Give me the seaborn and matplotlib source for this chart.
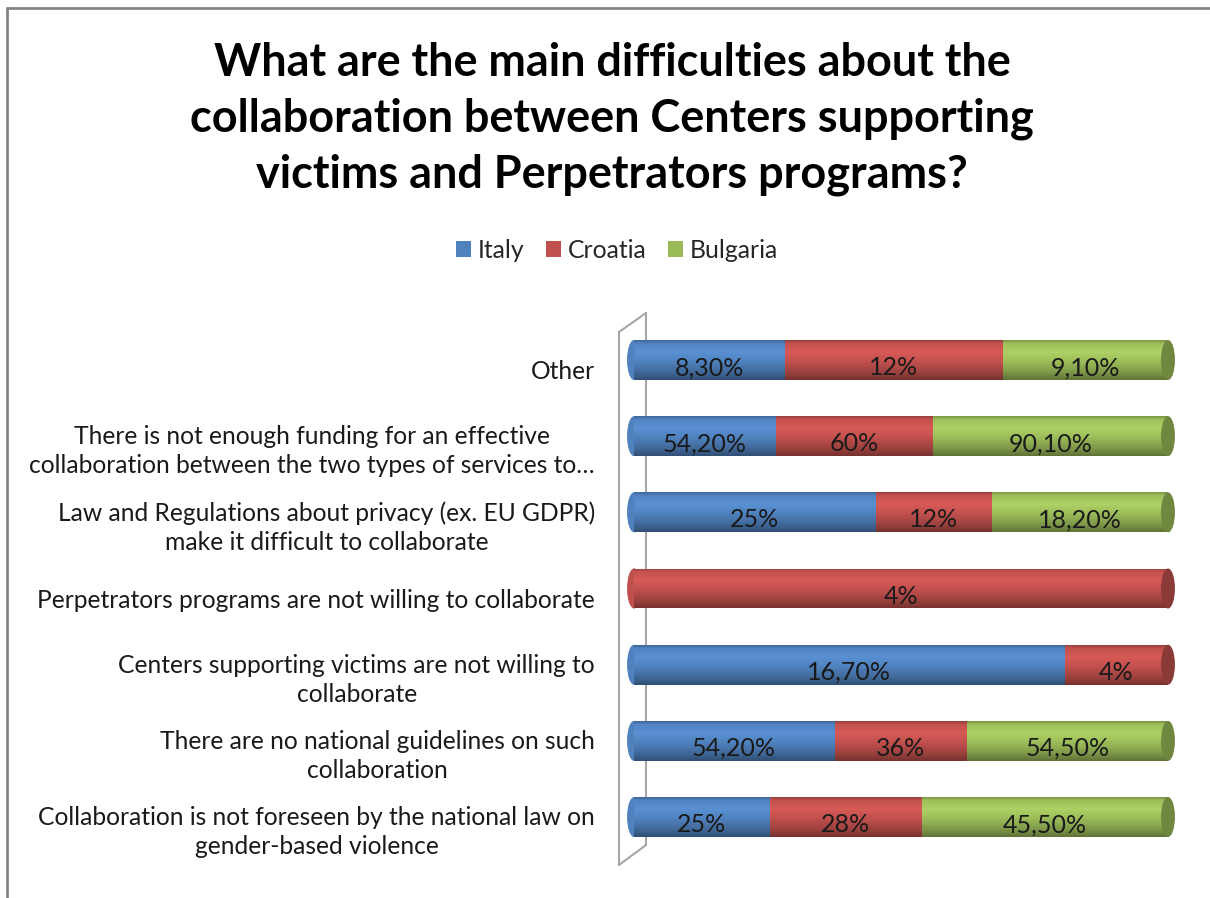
import numpy as np
import pandas as pd
import matplotlib
matplotlib.use("Agg")
import matplotlib.pyplot as plt
import seaborn as sns
from matplotlib.patches import Ellipse
from matplotlib.lines import Line2D
from matplotlib.transforms import ScaledTranslation
from matplotlib.colors import to_rgb

# ---------------- data ----------------
categories = [
    "Other",
    "There is not enough funding for an effective\ncollaboration between the two types of services to…",
    "Law and Regulations about privacy (ex. EU GDPR)\nmake it difficult to collaborate",
    "Perpetrators programs are not willing to collaborate",
    "Centers supporting victims are not willing to\ncollaborate",
    "There are no national guidelines on such\ncollaboration",
    "Collaboration is not foreseen by the national law on\ngender-based violence",
]
italy = [8.3, 54.2, 25, 0, 16.7, 54.2, 25]
croatia = [12, 60, 12, 4, 4, 36, 28]
bulgaria = [9.1, 90.1, 18.2, 0, 0, 54.5, 45.5]
series_names = ["Italy", "Croatia", "Bulgaria"]
series_colors = ["#4F81BD", "#C0504D", "#9BBB59"]
title = ("What are the main difficulties about the\n"
         "collaboration between Centers supporting\n"
         "victims and Perpetrators programs?")

# ---------------- style ----------------
sns.set_theme(style="white")
plt.rcParams["font.family"] = ["Lato", "DejaVu Sans"]

df = pd.DataFrame({"category": categories, "Italy": italy,
                   "Croatia": croatia, "Bulgaria": bulgaria})
vals = df[series_names].astype(float)
share = vals.div(vals.sum(axis=1), axis=0) * 100
cum = share.cumsum(axis=1)
left = cum - share

W, H = 1210, 898
fig = plt.figure(figsize=(W / 100, H / 100), dpi=100)


def fx(px):
    return px / W


def fy(py):
    return 1 - py / H


ax = fig.add_axes([fx(634), fy(855.1), fx(1168) - fx(634), (855.1 - 321.9) / H])
ax.patch.set_alpha(0)
bar_h = 0.525


def shade_cmap_img(color):
    c = np.array(to_rgb(color))
    pos = np.array([0.0, 0.08, 0.3, 0.55, 0.8, 1.0])
    fac = np.array([0.80, 1.02, 1.12, 1.0, 0.82, 0.62])
    ys = np.linspace(0, 1, 64)
    f = np.interp(ys, pos, fac)
    img = np.clip(c[None, :] * f[:, None], 0, 1)
    return img[:, None, :]


def shade(patch, color, zorder):
    if isinstance(patch, Ellipse):
        x0 = patch.center[0] - patch.width / 2
        x1 = patch.center[0] + patch.width / 2
        y0 = patch.center[1] - patch.height / 2
        y1 = patch.center[1] + patch.height / 2
    else:
        bb = patch.get_bbox()
        x0, y0, x1, y1 = bb.x0, bb.y0, bb.x1, bb.y1
    if x1 - x0 <= 0:
        return
    im = ax.imshow(shade_cmap_img(color), extent=(x0, x1, y1, y0),
                   origin="upper", aspect="auto", zorder=zorder,
                   interpolation="bilinear")
    im.set_clip_box(None)
    im.set_clip_path(patch)


# draw cumulative layers: largest first
n_before = 0
for z, (name, color) in enumerate(list(zip(series_names, series_colors))[::-1]):
    plot_df = pd.DataFrame({"category": categories, "end": cum[name].values})
    sns.barplot(data=plot_df, y="category", x="end", color=color, width=bar_h,
                orient="h", ax=ax, label=name, saturation=1, zorder=2 + z,
                linewidth=0)
    new = ax.patches[n_before:]
    n_before = len(ax.patches)
    for p in new:
        shade(p, color, 2 + z + 0.05)


def darker(color, f=0.72):
    return tuple(np.array(to_rgb(color)) * f)


# cylinder ends
cap_w = 2.6
for i in range(len(categories)):
    nz = [k for k, s in enumerate(series_names) if share.iloc[i][s] > 0]
    first, last = nz[0], nz[-1]
    le = Ellipse((0, i), cap_w, bar_h, facecolor=series_colors[first],
                 edgecolor="none", zorder=1.5, clip_on=False)
    ax.add_patch(le)
    shade(le, series_colors[first], 1.55)
    re = Ellipse((100, i), cap_w, bar_h, facecolor=darker(series_colors[last]),
                 edgecolor="none", zorder=9, clip_on=False)
    ax.add_patch(re)

# data labels
for i in range(len(categories)):
    for s, raw in zip(series_names, [italy[i], croatia[i], bulgaria[i]]):
        if share.iloc[i][s] <= 0:
            continue
        txt = (f"{raw:.0f}%" if float(raw).is_integer()
               else f"{raw:.2f}%".replace(".", ","))
        ax.annotate(txt, (left.iloc[i][s] + share.iloc[i][s] / 2, i),
                    xytext=(0, -5.5), textcoords="offset points",
                    ha="center", va="center", fontsize=18, color="#1a1a1a",
                    zorder=20)

ax.set_xlim(0, 100)
ax.set_ylim(len(categories) - 0.5, -0.5)
ax.set_xlabel("")
ax.set_ylabel("")
ax.set_xticks([])
ax.set_yticks(range(len(categories)))
ax.set_yticklabels(categories, fontsize=17.7, color="#1a1a1a")
ax.tick_params(axis="y", length=0, pad=28)
for lab in ax.get_yticklabels():
    lab.set_multialignment("center")
    lab.set_linespacing(1.33)
    lab.set_transform(lab.get_transform() +
                      ScaledTranslation(0, -10 / 100, fig.dpi_scale_trans))
sns.despine(ax=ax, left=True, bottom=True)
if ax.get_legend() is not None:
    ax.get_legend().remove()

# legend
handles, labels = ax.get_legend_handles_labels()
hmap = dict(zip(labels, handles))
fig.legend([hmap[n] for n in series_names], series_names, loc="center",
           bbox_to_anchor=(fx(617), fy(250)), ncol=3, frameon=False,
           fontsize=17.8, handlelength=0.6, handleheight=0.6,
           handletextpad=0.3, columnspacing=0.85)

# title
fig.text(fx(612), fy(119), title, ha="center", va="center", fontsize=32.4,
         fontweight="bold", color="black", linespacing=1.41)

# 3D wall outline
wall = [((619, 332), (619, 865)), ((619, 332), (646, 313)),
        ((646, 313), (646, 845)), ((619, 865), (646, 845))]
for (a, b) in wall:
    fig.add_artist(Line2D([fx(a[0]), fx(b[0])], [fy(a[1]), fy(b[1])],
                          color="#A6A6A6", lw=1.5, zorder=-1))

# chart frame (top and left visible)
fig.add_artist(Line2D([fx(7), fx(W + 5)], [fy(8), fy(8)], color="#868686", lw=2))
fig.add_artist(Line2D([fx(7), fx(7)], [fy(8), fy(H + 5)], color="#868686", lw=2))

fig.savefig("out.png", dpi=100)
